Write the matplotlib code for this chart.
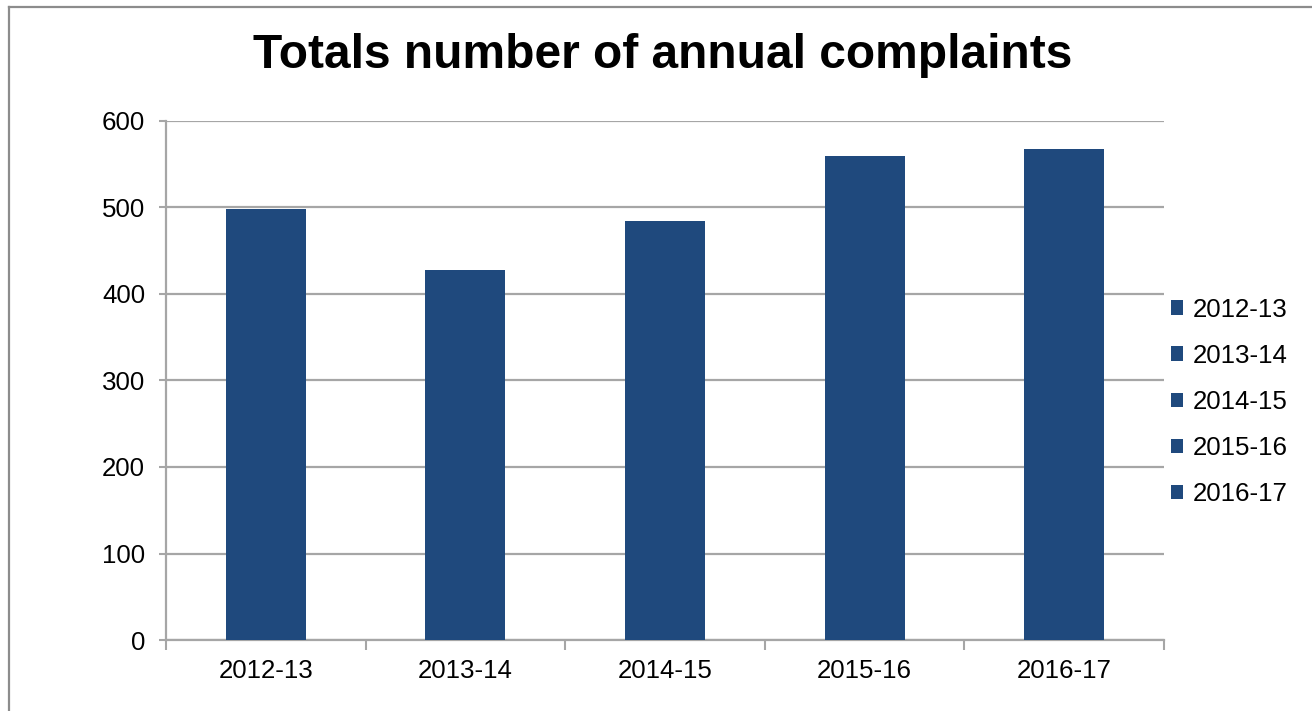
import matplotlib.pyplot as plt
from matplotlib.patches import Patch
from matplotlib.lines import Line2D
import numpy as np

plt.rcParams['font.family'] = ['Liberation Sans', 'DejaVu Sans']

# Data
years = ["2012-13", "2013-14", "2014-15", "2015-16", "2016-17"]
complaints = [498, 428, 484, 560, 568]

bar_color = "#1F497D"
grid_color = "#A6A6A6"

fig = plt.figure(figsize=(13.12, 7.11), dpi=100)
ax = fig.add_axes([166 / 1312, 71 / 711, 998 / 1312, 519 / 711])

x = np.arange(len(years))
ax.bar(x, complaints, width=0.4, color=bar_color, zorder=3)

ax.set_xlim(-0.5, len(years) - 0.5)
ax.set_ylim(0, 600)
ax.set_yticks(np.arange(0, 601, 100))
ax.yaxis.grid(True, color=grid_color, linewidth=1.6, zorder=0)

ax.set_xticks(x)
ax.set_xticklabels(years)
ax.set_xticks(np.arange(-0.5, len(years)), minor=True)
ax.tick_params(axis='x', which='major', length=0, pad=14, labelsize=18.6)
ax.tick_params(axis='x', which='minor', length=7, width=1.5, color=grid_color)
ax.tick_params(axis='y', length=5, width=1.5, color=grid_color, pad=10, labelsize=18.6)

for side in ['top', 'right']:
    ax.spines[side].set_visible(False)
for side in ['left', 'bottom']:
    ax.spines[side].set_color(grid_color)
    ax.spines[side].set_linewidth(1.6)

fig.text(663 / 1312, 1 - 56 / 711, "Totals number of annual complaints",
         ha='center', va='center', fontsize=34.5, fontweight='bold')

handles = [Patch(facecolor=bar_color, edgecolor='none') for _ in years]
fig.legend(handles, years, loc='center left',
           bbox_to_anchor=(1171 / 1312, 1 - 402 / 711),
           frameon=False, fontsize=18.6, handlelength=0.48, handleheight=0.48,
           handletextpad=0.35, labelspacing=0.86, borderaxespad=0, borderpad=0)

# outer chart frame (left and top edges only visible)
fig.add_artist(Line2D([9 / 1312, 9 / 1312], [0, 1 - 7 / 711], transform=fig.transFigure,
                      color='#8C8C8C', linewidth=1.6))
fig.add_artist(Line2D([9 / 1312, 1], [1 - 7 / 711, 1 - 7 / 711], transform=fig.transFigure,
                      color='#8C8C8C', linewidth=1.6))

plt.savefig("out.png", dpi=100)
